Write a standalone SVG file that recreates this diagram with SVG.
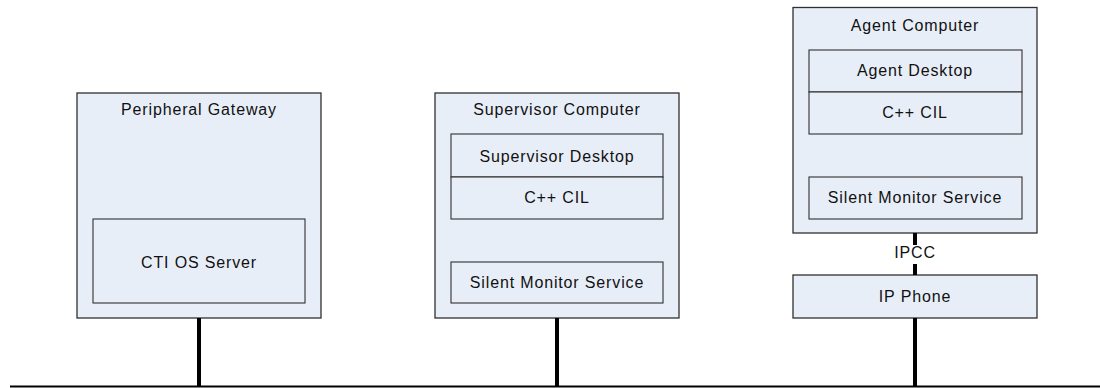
<svg xmlns="http://www.w3.org/2000/svg" width="1100" height="388" viewBox="0 0 1100 388">
<style>
.box{fill:#e8eef8;stroke:#303030;stroke-width:1.3}
.inner{fill:#e8eef8;stroke:#303030;stroke-width:1.1}
.t{font-family:"Liberation Sans",Arial,sans-serif;font-size:16px;letter-spacing:0.85px;fill:#111;text-anchor:middle}
.wire{stroke:#000;stroke-width:4;fill:none}
.bus{stroke:#000;stroke-width:2;fill:none}
</style>
<rect width="1100" height="388" fill="#fff"/>
<g id="peripheral-gateway">
<rect class="box" x="77" y="93" width="244" height="225"/>
<text class="t" x="199" y="114.5">Peripheral Gateway</text>
<g id="ctios-server">
<rect class="inner" x="93" y="219" width="212" height="84"/>
<text class="t" x="199" y="267.5">CTI OS Server</text>
</g>
</g>
<g id="supervisor-computer">
<rect class="box" x="435" y="93" width="244" height="225"/>
<text class="t" x="557" y="114.5">Supervisor Computer</text>
<g id="supervisor-desktop">
<rect class="inner" x="451" y="134" width="212" height="43"/>
<text class="t" x="557" y="161.5">Supervisor Desktop</text>
</g>
<g id="supervisor-cil">
<rect class="inner" x="451" y="177" width="212" height="42"/>
<text class="t" x="557" y="202.5">C++ CIL</text>
</g>
<g id="supervisor-sms">
<rect class="inner" x="451" y="262" width="212" height="41"/>
<text class="t" x="557" y="287.5">Silent Monitor Service</text>
</g>
</g>
<g id="agent-computer">
<rect class="box" x="793" y="7.5" width="244" height="225.5"/>
<text class="t" x="915" y="30.5">Agent Computer</text>
<g id="agent-desktop">
<rect class="inner" x="809" y="50" width="213" height="42"/>
<text class="t" x="915" y="76">Agent Desktop</text>
</g>
<g id="agent-cil">
<rect class="inner" x="809" y="92" width="213" height="42"/>
<text class="t" x="915" y="118">C++ CIL</text>
</g>
<g id="agent-sms">
<rect class="inner" x="809" y="177" width="213" height="42"/>
<text class="t" x="915" y="202.5">Silent Monitor Service</text>
</g>
</g>
<g id="ip-phone">
<rect class="box" x="793" y="275" width="244" height="43"/>
<text class="t" x="915" y="302">IP Phone</text>
</g>
<g id="connectors">
<line class="bus" x1="10" y1="386.5" x2="1100" y2="386.5"/>
<line class="wire" x1="199" y1="318" x2="199" y2="386"/>
<line class="wire" x1="557" y1="318" x2="557" y2="386"/>
<line class="wire" x1="915" y1="318" x2="915" y2="386"/>
<line class="wire" x1="915" y1="233" x2="915" y2="245"/>
<line class="wire" x1="915" y1="264" x2="915" y2="275"/>
<text class="t" x="915" y="258">IPCC</text>
</g>
</svg>
